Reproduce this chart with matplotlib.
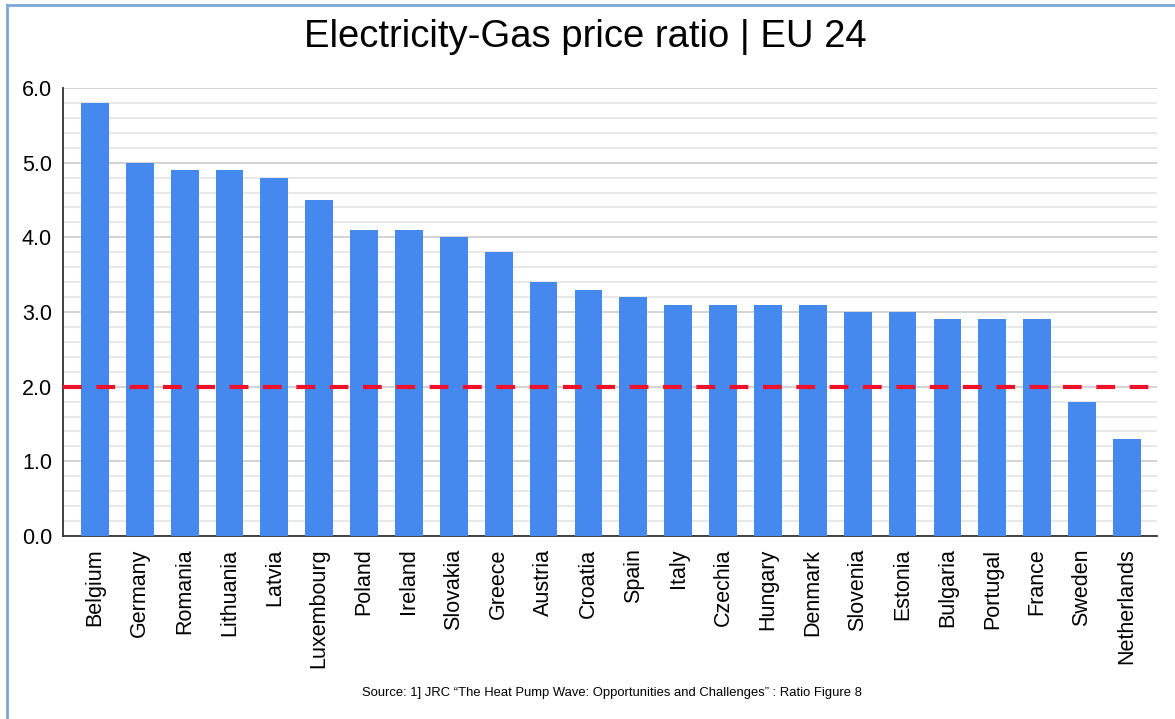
import matplotlib
matplotlib.use("Agg")
import matplotlib.pyplot as plt
from matplotlib.lines import Line2D
from matplotlib.ticker import MultipleLocator

plt.rcParams['font.family'] = ['Liberation Sans', 'DejaVu Sans']

# data
countries = ["Belgium", "Germany", "Romania", "Lithuania", "Latvia", "Luxembourg",
             "Poland", "Ireland", "Slovakia", "Greece", "Austria", "Croatia", "Spain",
             "Italy", "Czechia", "Hungary", "Denmark", "Slovenia", "Estonia",
             "Bulgaria", "Portugal", "France", "Sweden", "Netherlands"]
ratio = [5.8, 5.0, 4.9, 4.9, 4.8, 4.5, 4.1, 4.1, 4.0, 3.8, 3.4, 3.3, 3.2,
         3.1, 3.1, 3.1, 3.1, 3.0, 3.0, 2.9, 2.9, 2.9, 1.8, 1.3]
threshold = 2.0
yticks = [0.0, 1.0, 2.0, 3.0, 4.0, 5.0, 6.0]

fig = plt.figure(figsize=(11.75, 7.19), dpi=100)
ax = fig.add_axes([63/1175, 1-536/719, (1157-63)/1175, (536-88)/719])

x = list(range(len(countries)))
ax.bar(x, ratio, width=0.62, color="#4589ee", zorder=3)

# red dashed reference line
ax.axhline(threshold, color="#f0102a", lw=3, ls=(0, (4.5, 3.5)),
           dash_capstyle="butt", zorder=4)

ax.set_ylim(0, 6)
ax.set_xlim(-0.71, 23.67)
ax.set_yticks(yticks)
ax.set_yticklabels([f"{v:.1f}" for v in yticks])
ax.yaxis.set_minor_locator(MultipleLocator(0.2))
ax.grid(axis="y", which="major", color="#cccccc", lw=1.2, zorder=0)
ax.grid(axis="y", which="minor", color="#e4e4e4", lw=1.2, zorder=0)
ax.set_xticks(x)
ax.set_xticklabels(countries, rotation=90, fontsize=15.5)
ax.tick_params(axis="both", which="both", length=0)
ax.tick_params(axis="y", labelsize=15.5, pad=8)
ax.tick_params(axis="x", pad=9)

for s in ["top", "right"]:
    ax.spines[s].set_visible(False)
ax.spines["left"].set_color("#333333")
ax.spines["bottom"].set_color("#333333")
ax.spines["left"].set_linewidth(1.3)
ax.spines["bottom"].set_linewidth(1.3)

fig.text(0.498, 1-37/719, "Electricity-Gas price ratio | EU 24", fontsize=27.5,
         ha="center", va="center")
fig.text(612/1175, 1-693/719,
         "Source: 1] JRC \u201cThe Heat Pump Wave: Opportunities and Challenges\u201d : Ratio Figure 8",
         fontsize=9.4, ha="center", va="center")

# screenshot frame (top and left edges)
fig.add_artist(Line2D([7/1175, 1], [1-5/719, 1-5/719], color="#7fa6d6", lw=2))
fig.add_artist(Line2D([7/1175, 7/1175], [0, 1-5/719], color="#7fa6d6", lw=2))

fig.savefig("out.png", dpi=100)
